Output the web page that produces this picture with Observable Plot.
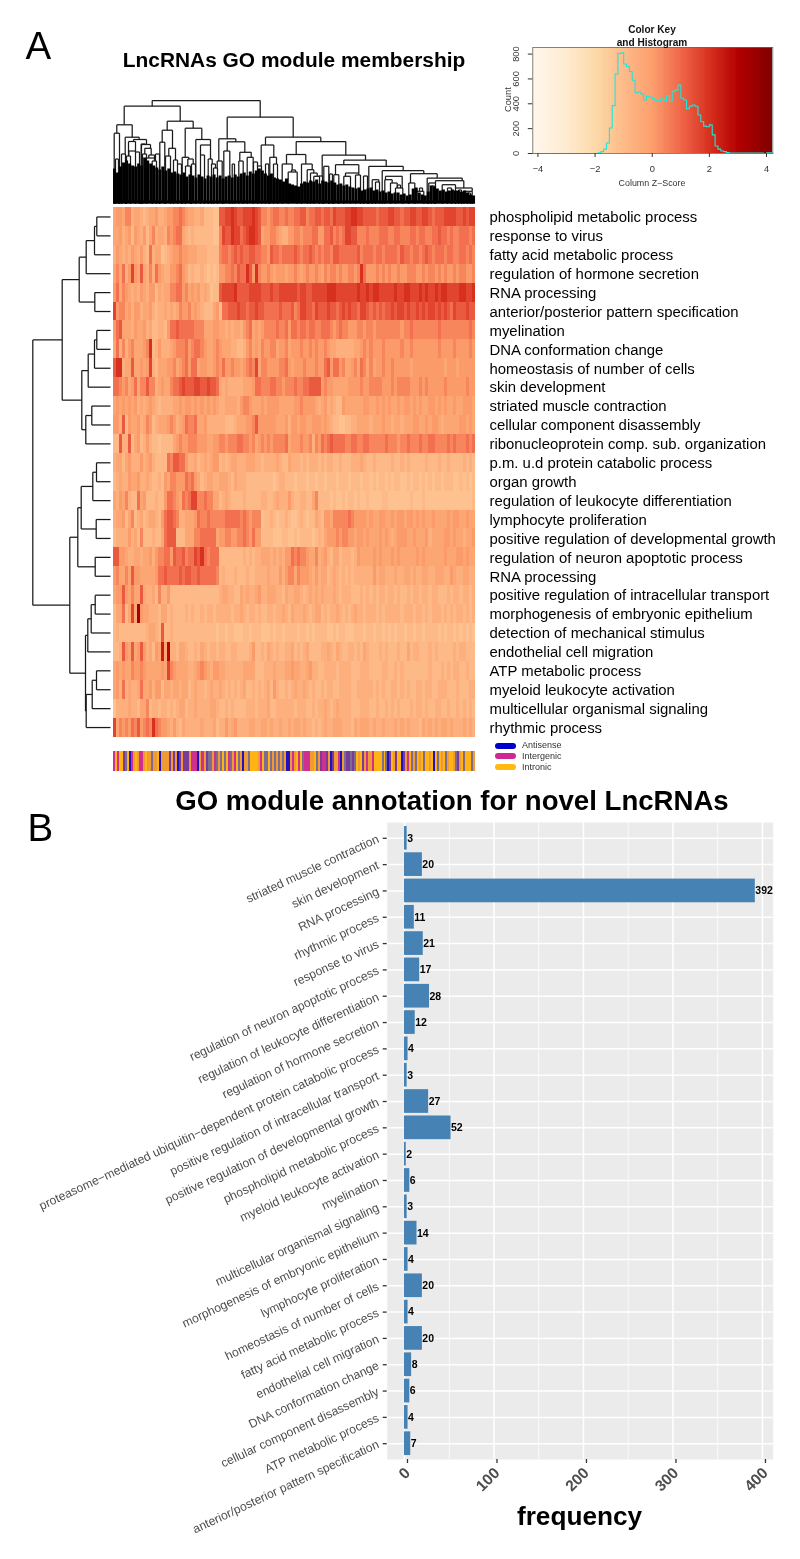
<!DOCTYPE html>
<html><head><meta charset="utf-8">
<script src="https://cdn.jsdelivr.net/npm/d3@7"></script>
<script src="https://cdn.jsdelivr.net/npm/@observablehq/plot@0.6"></script>
<style>
html,body{margin:0;padding:0;background:#fff}
#root{position:relative;width:800px;height:1559px;overflow:hidden;font-family:"Liberation Sans",Arial,sans-serif;filter:blur(0.4px)}
#root>svg,#root>div.p{position:absolute;overflow:visible}
.t{position:absolute;white-space:nowrap;line-height:1}
</style></head><body><div id="root"></div>
<script>
// ---------- data ----------
const rowLabels = ["phospholipid metabolic process","response to virus","fatty acid metabolic process","regulation of hormone secretion","RNA processing","anterior/posterior pattern specification","myelination","DNA conformation change","homeostasis of number of cells","skin development","striated muscle contraction","cellular component disassembly","ribonucleoprotein comp. sub. organization","p.m. u.d protein catabolic process","organ growth","regulation of leukocyte differentiation","lymphocyte proliferation","positive regulation of developmental growth","regulation of neuron apoptotic process","RNA processing","positive regulation of intracellular transport","morphogenesis of embryonic epithelium","detection of mechanical stimulus","endothelial cell migration","ATP metabolic process","myeloid leukocyte activation","multicellular organismal signaling","rhythmic process"];
// heat levels per row, five column blocks separated by |
const heatRows = [
"34435523321233422344556543322311100|77889877888987|554566556556677566776|776877788998877|7767778877677887788767778888778788",
"33423414324135233254566321211111100|58779886789987|344554322445545556644|667565688775556|5556665566555665665566766565566656",
"24323243242162330123445443332221111|56656767667766|554766566667656676565|665776666667566|6566566665766566567656665665566565",
"35362484373252643224456431211210101|44556576697495|445434443445434544543|545545445545964|4454545445445554454554545445455445",
"46354323243244132335566453434232011|78888977778888|777877888888788778888|899988888889889|8998888898899888989889899888899889",
"84553424423342122323235445343211134|16677787767787|766666766675688776877|787767878776887|6767677878878778787887878768777877",
"46733324334231122146676666655533344|33232332456343|455556556466566566556|665456554445545|5455555555455655555555655555555565",
"36252453334591242223455564566543345|43332211245343|544553445344454454544|543322222233454|5444544444544544444444544445444454",
"79923373343482133344534564663443345|46445443456583|554444556434445444544|674664533453653|5344544544444344444444443444344444",
"66545346355755234335667877788778776|32322222333466|555665545556556677774|544333334444544|5555444545555444545444445444444544",
"34343434232343212222334344343434343|22333324554333|434444333334454444323|423211433333344|3343434334344343433443434334334443",
"44271433423541233345423465563342222|22111233344574|444443334244344334443|432110011223333|2333433233233344334344323333344343",
"11722713412421101111345445554443344|55455566554534|545455556344454452546|567666655665566|5555565554556555655665555656555656",
"23313422242342111165776642231232344|12123322233322|122223211322212122212|122112111222321|1211111211212111112111211211112121",
"12322433422321121435544465643123322|33321322211111|111101221110111011011|011101110111011|0101101011001011010101101110010101",
"32435211634111211466543656885565533|12321111211111|221123222421122113511|110100101101001|0000110000000100010000000000000001",
"23341351231233214677652233346556555|55666665654555|011210112100121011321|443555556544443|4334433434434434343343333434433433",
"12222423151112113677711133355666663|44554455654644|111100011001011110121|344454554434434|3334343234443343334233334434332334",
"77443223323342455664766756687965666|11111111212122|333232324465655433523|421331222124333|3434333434333334343333334333443433",
"45335374433333466766667677667666665|12111211121122|223222424553544432423|312321212122222|2423322232233232233223332243223322",
"34474353373223152241111111111111111|23322113232234|223332213223321232323|222321222111212|1212212212112122122122111212212212",
"13361383c43322213312111121211212212|22221223212212|112212232132223212331|212232121232212|2212122222122212212122212121221212",
"12111111111233217112111111111111110|11011000110111|000101101111011010111|100101100011101|1011010101101101101111010110101010",
"1127437347423143a3b2213321121321221|22112211112411|213212112231212311112|232132112212132|1112121112113122111212111112122111",
"34343354454333334385433332234543244|33222222333311|122232223343322342211|222212222111222|1111221121211111111211121212211211",
"34262322363342441332332331232212322|32121212311212|123142112123223212112|122112222112222|2121211221212112212211222111211122",
"02222322133512212212123312232222332|11212111122212|223112222221222112122|321232222111222|1121121212111212212112211211212121",
"83545465745659654432421322222322231|22423422223322|332322322323323221212|322333222132333|2322322232323222132323233232223232"];
const blockEdges = [0,35,49,70,85,120];
const levelZ = [-1.25,-0.95,-0.62,-0.28,0.05,0.42,0.8,1.2,1.6,2,2.4,2.9,3.4,4];
const keyDomain = [-4.2,-3,-2,-1.2,0,1,2,3,4.2];
const keyColors = ["#FFF7EC","#FEEBD0","#FDD9A8","#FDC08E","#FC9E6C","#EF6548","#D7301F","#B30000","#7F0000"];
// lncRNA class strip, read per column (g, s, p are the blended tones of neighbouring thin stripes)
const classStrip = "momoopsobmgogmmgoggsggobggggpgpgbpgpppgmmmbgmmgpssgmsgsosomsgmosgbggsoooogmossosgsgsgsgbbgmgom"+"osmmmggosgpmmpgbpggmbgspps"+"psogopgmggmoooosos"+"bpogpoobpgmosgsogosoogobosogosgoogspgosooosg";
const classKeys = ["o","g","b","p","m","s"];
const classTones = ["#FFB414","#F09A34","#2212BE","#7A3A9A","#CF3090","#7C6C92"];
const legendNames = ["Antisense","Intergenic","Intronic"];
const legendColors = ["#0000CD","#CD2990","#FFB90F"];
// row dendrogram: hclust-like merges [a, b, height]; negative = leaf, positive = earlier merge
const rowMerges = [[-1,-2,13.7],[1,-3,16],[2,-4,24.3],[-5,-6,15.7],[3,4,31.3],[-7,-8,13.7],[6,-9,16],[7,-10,22.3],[-11,-12,18.7],[9,-13,24.7],[8,10,28.7],[5,11,48.3],[-14,-15,14],[13,-16,17.7],[-17,-18,14.3],[14,15,29.3],[-19,-20,15.3],[16,17,32.7],[-21,-22,15.3],[19,-23,19.3],[20,-24,22.7],[-25,-26,14],[22,-27,18.3],[23,-28,24.3],[21,24,25],[18,25,40.7],[12,26,77.7]];
// column dendrogram upper nodes [left, right, height]
const colNodes = [[38.7,146.7,103.5],[10.7,66.7,97.8],[113.7,179.7,86.8],[3.3,18.7,79.2],[53.7,79.7,82.8],[48.7,59,73.8],[71.7,88.3,75.8],[0.7,6,70.8],[11.7,25.7,66.8],[20,33,64.5],[15,22,62.5],[28,37,59.5],[15.3,22,53],[27.7,32,60],[31.3,37.7,55.7],[35.3,41,49],[38.7,43,43],[33,41,46],[46.3,51.3,61.8],[55.3,62,55.7],[52,57,48],[82.3,97,64.5],[87,97,59],[87,91,49],[94.7,98.7,45],[68.7,75.3,46.7],[74.3,79.7,45],[72,77,38],[105.3,122.3,65.2],[113.7,131.3,62.2],[110.3,116.3,53],[126.3,137.7,51.7],[133.7,139.7,46.7],[125.3,129.7,43],[103.7,108.7,43],[118.7,121,40],[152,207.3,66.8],[147.7,160.3,59],[156.3,163,46.7],[152,155.3,40],[182.7,232.3,62.5],[173,192.3,49.5],[168.7,178.7,40],[174.7,183.7,32],[188,198.7,40],[193.7,200.3,34.3],[197,203.7,31],[200.3,206,27.7],[208.7,252,49],[210.3,215.3,37.7],[230.3,272.7,44],[222,245.3,39.3],[220.3,225.3,29.3],[232,245.3,31],[230.3,237,27.7],[242,247,29],[255.3,289.7,37.7],[268.7,310.3,33.3],[258.7,265.3,24.3],[272,288.7,27.7],[271.3,278.7,24.3],[277,283.7,21],[282,289.3,16],[297,323.7,30.3],[295.3,301.3,21],[301.3,310.3,12.7],[313.7,348.7,26],[322,350.3,23.3],[315.3,322,21],[328.7,342,19.3],[342,358.7,16],[350.3,358.7,12.7],[2,5,45],[8,12,50],[13,17,48],[22,26,52],[29,33,50],[42,46,50],[60,64,44],[64,68,40],[78,82,40],[98,102,40],[100,104,36],[140,144,42],[144,148,38],[160,164,40],[178,182,34],[205,209,28],[216,219,30],[250,254,28],[262,266,22],[284,287,19],[306,309,16],[318,321,18],[334,338,16],[345,348,14],[354,357,11]];
// height of the dense leaf mass, one value per 3-unit column
const colMass = [35,31,37,41,43,40,38,37,40,38,46,43,40,38,36,34,37,33,35,31,32,30,29,31,27,29,28,26,29,27,25,28,27,29,26,28,25,27,28,26,29,27,30,31,28,32,30,33,35,33,30,28,30,26,25,24,22,25,20,19,18,17,20,22,21,23,22,24,20,23,22,21,23,21,19,20,18,19,17,16,15,16,13,14,15,16,13,14,12,13,11,12,10,11,11,9,10,8,9,15,16,11,9,8,12,18,17,15,13,14,12,13,14,13,13,12,13,11,9,8];
// histogram
const histZ = [-4.2,-2,-1.9,-1.8,-1.7,-1.6,-1.5,-1.4,-1.3,-1.2,-1.1,-1,-0.9,-0.8,-0.7,-0.6,-0.5,-0.4,-0.3,-0.2,-0.1,0,0.1,0.2,0.3,0.4,0.5,0.6,0.7,0.8,0.9,1,1.1,1.2,1.3,1.4,1.5,1.6,1.7,1.8,1.9,2,2.1,2.2,2.3,2.4,2.5,2.6,2.7,2.9,3.9,4,4.22];
const histCount = [0,0,5,15,35,85,205,385,640,805,810,720,700,660,590,490,495,480,430,460,455,440,425,425,440,425,465,420,500,510,550,445,430,360,380,390,380,310,255,220,215,230,150,60,35,20,15,8,4,3,0,5,0];
// bar chart
const goTerms = ["striated muscle contraction","skin development","RNA processing","rhythmic process","response to virus","regulation of neuron apoptotic process","regulation of leukocyte differentiation","regulation of hormone secretion","proteasome−mediated ubiquitin−dependent protein catabolic process","positive regulation of intracellular transport","positive regulation of developmental growth","phospholipid metabolic process","myeloid leukocyte activation","myelination","multicellular organismal signaling","morphogenesis of embryonic epithelium","lymphocyte proliferation","homeostasis of number of cells","fatty acid metabolic process","endothelial cell migration","DNA conformation change","cellular component disassembly","ATP metabolic process","anterior/posterior pattern specification"];
const goCounts = [3,20,392,11,21,17,28,12,4,3,27,52,2,6,3,14,4,20,4,20,8,6,4,7];
const majorTicks = [0,100,200,300,400];
const minorTicks = [50,150,250,350];

// ---------- helpers ----------
const root = document.getElementById("root");
const font = '"Liberation Sans",Arial,sans-serif';
function put(svg,left,top){svg.style.left=left+"px";svg.style.top=top+"px";svg.style.background="transparent";root.appendChild(svg);return svg;}
function label(text,x,base,size,o={}){const d=document.createElement("div");d.className="t";d.textContent=text;
  d.style.left=x+"px";d.style.top=(base-0.8465*size)+"px";d.style.fontSize=size+"px";
  d.style.fontWeight=o.bold?"bold":"normal";d.style.color=o.color||"#000";
  d.style.transform=(o.center?"translateX(-50%) ":"")+(o.rotate?`rotate(${o.rotate}deg)`:"");
  root.appendChild(d);return d;}
const colorScale = {type:"linear",domain:keyDomain,range:keyColors,interpolate:"rgb"};

// ---------- top dendrogram ----------
function legBottom(x,h){let best=0;for(const [a,b,c] of colNodes){if(c<h&&a<=x&&x<=b&&c>best)best=c;}return best;}
const colSegs=[];
for(const [a,b,h] of colNodes){
  colSegs.push({x1:a,y1:h,x2:b,y2:h},{x1:a,y1:h,x2:a,y2:legBottom(a,h)},{x1:b,y1:h,x2:b,y2:legBottom(b,h)});
}
const massData = colMass.map((m,i)=>({i,m}));
put(Plot.plot({width:362,height:104.5,margin:0,style:{fontFamily:font,background:"transparent"},
  x:{domain:[0,362],axis:null},y:{domain:[0,104.5],axis:null},
  marks:[
    Plot.link(colSegs,{x1:"x1",y1:"y1",x2:"x2",y2:"y2",stroke:"#1a1a1a",strokeWidth:1.25}),
    Plot.rect(massData,{x1:d=>d.i*3.017,x2:d=>(d.i+1)*3.017,y1:0,y2:"m",fill:"#000"}),
    Plot.rect([0],{x1:0,x2:362,y1:0,y2:3,fill:"#000"})
  ]}),113,99);

// ---------- row dendrogram ----------
function rowPos(k,nodes){return k<0?{y:-k-1,h:0}:nodes[k-1];}
const rowNodes=[],rowSegs=[];
for(const [a,b,h] of rowMerges){
  const A=rowPos(a,rowNodes),B=rowPos(b,rowNodes);
  rowSegs.push({x1:A.h,y1:A.y,x2:h,y2:A.y},{x1:B.h,y1:B.y,x2:h,y2:B.y},{x1:h,y1:A.y,x2:h,y2:B.y});
  rowNodes.push({y:(A.y+B.y)/2,h});
}
put(Plot.plot({width:113,height:529.5,margin:0,style:{fontFamily:font,background:"transparent"},
  x:{domain:[113,0],axis:null,range:[0,113]},y:{domain:[27.5,-0.5],axis:null},
  marks:[Plot.link(rowSegs,{x1:d=>d.x1+3,y1:"y1",x2:d=>d.x2+3,y2:"y2",stroke:"#1a1a1a",strokeWidth:1.25})]}),0,207);

// ---------- heatmap ----------
const heatCells=[];
heatRows.forEach((row,r)=>{row.split("|").forEach((blk,b)=>{
  const w=(blockEdges[b+1]-blockEdges[b])/blk.length;
  [...blk].forEach((ch,i)=>heatCells.push({r,x1:blockEdges[b]+i*w,x2:blockEdges[b]+(i+1)*w,z:levelZ[parseInt(ch,16)]}));
});});
put(Plot.plot({width:800,height:529.5,marginLeft:113,marginRight:325,marginTop:0,marginBottom:0,
  style:{fontFamily:font,background:"transparent",color:"#000"},
  x:{domain:[0,120],axis:null},
  y:{domain:d3.range(28),padding:0,round:false,label:null},
  color:colorScale,
  marks:[
    Plot.barX(heatCells,{x1:"x1",x2:"x2",y:"r",fill:"z",shapeRendering:"crispEdges",imageFilter:"blur(0.5px)"}),
    Plot.axisY({anchor:"right",label:null,tickSize:0,tickPadding:14,fontSize:14.9,dy:0.5,tickFormat:i=>rowLabels[i],textOverflow:null,lineWidth:Infinity,fill:"#000"})
  ]}),0,207);

// ---------- side strip ----------
const strip=[...classStrip].map((c,i)=>({i,c}));
put(Plot.plot({width:362,height:20,margin:0,style:{background:"transparent"},
  x:{domain:d3.range(strip.length),axis:null,padding:0,round:false},y:{domain:[0,1],axis:null},
  color:{domain:classKeys,range:classTones},
  marks:[Plot.barY(strip,{x:"i",y:1,fill:"c",shapeRendering:"crispEdges"})]}),113,751);
legendNames.forEach((n,i)=>{
  const y=[745.7,756.4,767.3][i];
  const d=document.createElement("div");d.style.cssText=`position:absolute;left:495px;top:${y-3}px;width:21px;height:6px;border-radius:3px;background:${legendColors[i]}`;root.appendChild(d);
  label(n,522,y+3,9,{color:"#333"});
});

// ---------- histogram / colour key ----------
const keyZ=d3.range(-4.18,4.22,0.06);
const histSteps=histZ.map((z,i)=>({z,c:histCount[i]}));
put(Plot.plot({width:300,height:146,marginLeft:32.3,marginRight:27.7,marginTop:0,marginBottom:40,
  style:{fontFamily:font,background:"transparent"},
  x:{domain:[-4.18,4.22]},y:{domain:[0,853]},color:colorScale,
  marks:[
    Plot.rect(keyZ,{x1:d=>d,x2:d=>d+0.06,y1:0,y2:853,fill:d=>d,shapeRendering:"crispEdges"}),
    Plot.line(histSteps,{x:"z",y:"c",curve:"step-after",stroke:"#1fe6dc",strokeWidth:1.1}),
    Plot.frame({stroke:"#666",strokeWidth:0.8}),
    Plot.axisX({ticks:[-4,-2,0,2,4],tickSize:4,tickPadding:8,fontSize:9.3,label:null,fill:"#333",stroke:"#333"}),
    Plot.axisY({ticks:[0,200,400,600,800],tickSize:4.5,tickPadding:9,fontSize:9.3,label:null,tickRotate:-90,fill:"#333",stroke:"#333"})
  ]}),500,46.7);
label("Color Key",652,34,10.1,{bold:true,center:true,color:"#111"});
label("and Histogram",652,46.7,10.1,{bold:true,center:true,color:"#111"});
label("Column Z−Score",652,186.5,8.9,{center:true,color:"#333"});
label("Count",509,103.3,9.3,{center:true,rotate:-90,color:"#333"});

// ---------- bar chart ----------
const barData=goTerms.map((t,i)=>({t,n:goCounts[i]}));
put(Plot.plot({width:800,height:697,marginLeft:386.7,marginRight:27.3,marginTop:0,marginBottom:60,
  style:{fontFamily:font,background:"transparent"},
  x:{domain:[-19.3,412]},
  y:{domain:goTerms,paddingInner:0.1,paddingOuter:0.15,round:false},
  marks:[
    Plot.frame({fill:"#EBEBEB"}),
    Plot.ruleX(minorTicks,{stroke:"#fff",strokeWidth:0.8}),
    Plot.ruleX(majorTicks,{stroke:"#fff",strokeWidth:1.5}),
    Plot.ruleY(goTerms,{y:d=>d,stroke:"#fff",strokeWidth:1.5}),
    Plot.barX(barData,{x:"n",y:"t",fill:"#4682B4"}),
    Plot.text(barData,{x:"n",y:"t",text:d=>String(d.n),textAnchor:"start",fontWeight:"bold",fontSize:10.5,fill:"#000"}),
    Plot.axisX({ticks:majorTicks,tickSize:4,tickPadding:7,tickRotate:-45,fontSize:15.5,dx:3,fontWeight:"bold",label:null,fill:"#4D4D4D",stroke:"#333",strokeWidth:1.3,tickFormat:d=>String(d)}),
    Plot.axisY({tickSize:4,tickPadding:5,tickRotate:-25,fontSize:12.2,label:null,fill:"#4D4D4D",stroke:"#333",strokeWidth:1.3,textOverflow:null,lineWidth:Infinity})
  ]}),0,821.8);

// ---------- titles ----------
label("A",25.5,59.5,38.5);
label("B",27.5,842,38.5);
label("LncRNAs GO module membership",294,68,20.9,{bold:true,center:true});
label("GO module annotation for novel LncRNAs",452,810,27.6,{bold:true,center:true});
label("frequency",579.5,1525,26.2,{bold:true,center:true});
</script></body></html>
